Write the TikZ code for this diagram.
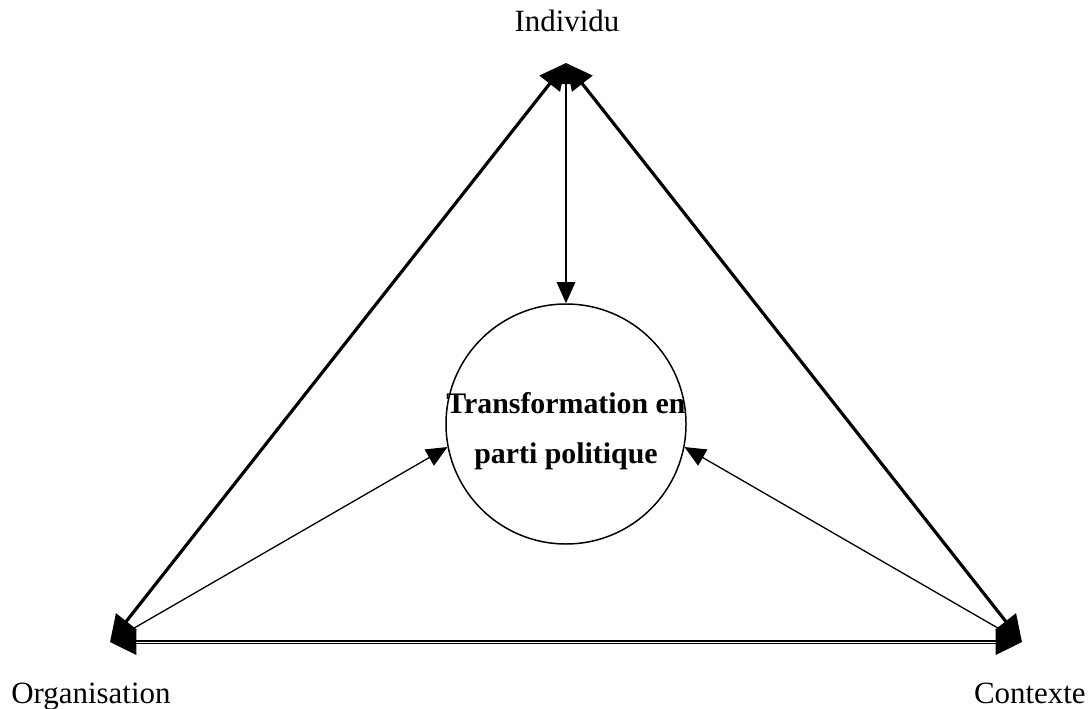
\documentclass[tikz,border=0pt]{standalone}
\usepackage{fontspec}
\setmainfont{Liberation Serif}
\usepackage{tikz}
\usetikzlibrary{arrows.meta, positioning}

\begin{document}
\begin{tikzpicture}[x=0.02cm, y=-0.02cm,
        side/.style={line width=1.8pt, {Triangle[length=15pt, width=14.5pt]}-{Triangle[length=15pt, width=14.5pt]}},
        link/.style={line width=0.75pt, {Triangle[length=12pt, width=10.5pt]}-{Triangle[length=12pt, width=10.5pt]}},
        lbl/.style={font=\fontsize{17.6}{21}\selectfont, inner sep=0pt}]
                                \useasboundingbox (0, 0) rectangle (1091, 709);

                                \coordinate (ind) at (566, 63);
                                \coordinate (org) at (110, 642);
                                \coordinate (ctx) at (1022, 642);

                                \node[lbl, anchor=base] (indlbl) at (567, 32) {Individu};
                                \node[lbl, anchor=base west] (orglbl) at (11, 703) {Organisation};
                                \node[lbl, anchor=base east] (ctxlbl) at (1086, 703) {Contexte};

                                \node[circle, draw, line width=0.85pt, minimum size=240*0.02cm, inner sep=0pt] (parti) at (566, 424) {};
                                \node[inner sep=0pt, align=center, font=\fontsize{17}{28.5}\selectfont\bfseries] (partilbl) at (566, 431) {Transformation en\\parti politique};

                                \draw[side] (org) -- (ind);
                                \draw[side] (ctx) -- (ind);
                                \draw[side, line width=1.1pt, double, double distance=0.5pt] (org) -- (ctx);

                                \draw[link, line width=0.85pt] (ind) -- (parti.north);
                                \draw[link] (org) -- (parti.191);
                                \draw[link] (ctx) -- (parti.349);
                            \end{tikzpicture}
\end{document}
